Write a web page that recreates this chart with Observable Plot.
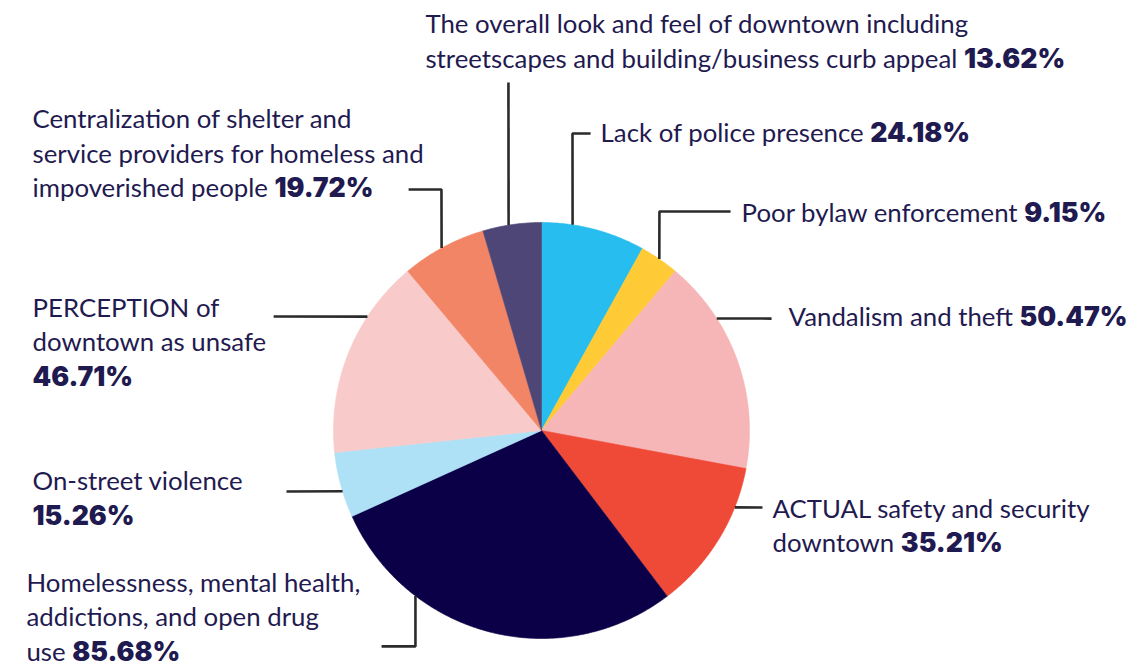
<!DOCTYPE html>
<html>
<head>
<meta charset="utf-8">
<script src="https://cdn.jsdelivr.net/npm/d3@7"></script>
<script src="https://cdn.jsdelivr.net/npm/@observablehq/plot@0.6"></script>
<style>
  html, body { margin: 0; padding: 0; background: #fff; }
  #chart svg { display: block; }
</style>
</head>
<body>
<div id="chart"></div>
<script>
// ---- data ----
const categories = [
  "Lack of police presence",
  "Poor bylaw enforcement",
  "Vandalism and theft",
  "ACTUAL safety and security downtown",
  "Homelessness, mental health, addictions, and open drug use",
  "On-street violence",
  "PERCEPTION of downtown as unsafe",
  "Centralization of shelter and service providers for homeless and impoverished people",
  "The overall look and feel of downtown including streetscapes and building/business curb appeal"
];
const values = [24.18, 9.15, 50.47, 35.21, 85.68, 15.26, 46.71, 19.72, 13.62];
// label text as printed (line breaks), percentage appended from values
const labelLines = [
  "Lack of police presence",
  "Poor bylaw enforcement",
  "Vandalism and theft",
  "ACTUAL safety and security\ndowntown",
  "Homelessness, mental health,\naddictions, and open drug\nuse",
  "On-street violence\n",
  "PERCEPTION of\ndowntown as unsafe\n",
  "Centralization of shelter and\nservice providers for homeless and\nimpoverished people",
  "The overall look and feel of downtown including\nstreetscapes and building/business curb appeal"
];

// ---- styles ----
const palette = ["#27bdee", "#fecb36", "#f6b5b6", "#ef4a37", "#0b0047", "#aee0f6", "#f8cbca", "#f38567", "#4d4676"];
const textColor = "#1f1a50";
const lineColor = "#2b2b2b";
const fontSize = 25.8;
const boldSize = 26.6;

// ---- layout (pie centre / radius in pixels; labels in radius units) ----
const W = 1140, H = 666, CX = 541, CY = 430, R = 208;
const labelPos = [ // [x of left edge, y of last line's baseline]
  [0.284, 1.386], [0.962, 1.001], [1.188, 0.501], [1.111, -0.585],
  [-2.476, -1.106], [-2.447, -0.452], [-2.447, 0.216], [-2.447, 1.122], [-0.558, 1.745]
];
const leaderAttachDeg = [8.6, 34.5, 57.4, 111.7, 217.3, 253.0, 303.2, 331.3, 350.9];
const leaderElbows = [
  [[0.149, 1.428], [0.236, 1.428]],
  [[0.567, 1.053], [0.909, 1.053]],
  [[1.106, 0.538]],
  [[1.0625, -0.370]],
  [[-0.606, -1.038], [-0.769, -1.038]],
  [[-1.226, -0.293]],
  [[-1.288, 0.548]],
  [[-0.481, 1.159], [-0.639, 1.159]],
  [[-0.159, 1.673]]
];

// ---- build slices ----
const arcs = d3.pie().sort(null).value(d => d)(values);
const slicePts = [];
arcs.forEach((a, i) => {
  const steps = Math.max(2, Math.ceil((a.endAngle - a.startAngle) / (Math.PI / 360)));
  slicePts.push({k: i, x: 0, y: 0, c: palette[i]});
  for (let s = 0; s <= steps; s++) {
    const t = a.startAngle + (a.endAngle - a.startAngle) * s / steps;
    slicePts.push({k: i, x: Math.sin(t), y: Math.cos(t), c: palette[i]});
  }
  slicePts.push({k: i, x: 0, y: 0, c: palette[i]});
});

// ---- leaders ----
const leaderPts = [];
leaderAttachDeg.forEach((deg, i) => {
  const t = deg * Math.PI / 180;
  leaderPts.push({k: i, x: Math.sin(t), y: Math.cos(t)});
  leaderElbows[i].forEach(([x, y]) => leaderPts.push({k: i, x, y}));
});

// ---- labels ----
const labels = categories.map((c, i) => ({
  x: labelPos[i][0], y: labelPos[i][1],
  text: labelLines[i] + (labelLines[i].endsWith("\n") ? "" : " ") + values[i].toFixed(2) + "%"
}));

const xDomain = [-CX / R, (W - CX) / R];
const yDomain = [-(H - CY) / R, CY / R];

const chart = Plot.plot({
  width: W, height: H, margin: 0,
  x: {domain: xDomain, axis: null},
  y: {domain: yDomain, axis: null},
  color: {type: "identity"},
  style: {fontFamily: "Lato, sans-serif", background: "#fff"},
  marks: [
    Plot.line(slicePts, {x: "x", y: "y", z: "k", fill: "c", stroke: "c", strokeWidth: 0.6, curve: "linear"}),
    Plot.line(leaderPts, {x: "x", y: "y", z: "k", stroke: lineColor, strokeWidth: 2.6, strokeLinecap: "butt", strokeLinejoin: "miter"}),
    Plot.text(labels, {x: "x", y: "y", text: "text", textAnchor: "start", lineAnchor: "bottom",
      fontSize, lineHeight: 34.5 / fontSize, fill: textColor, className: "lbl"})
  ]
});
document.getElementById("chart").appendChild(chart);

// bold percentages
chart.querySelectorAll("g.lbl text").forEach(t => {
  const spans = t.querySelectorAll("tspan");
  const node = spans.length ? spans[spans.length - 1] : t;
  const s = node.textContent;
  const m = s.match(/^(.*?)(\d+\.\d+%)$/);
  if (!m) return;
  node.textContent = m[1];
  const b = document.createElementNS("http://www.w3.org/2000/svg", "tspan");
  b.setAttribute("font-weight", "900");
  b.setAttribute("font-family", "Inter, sans-serif");
  b.setAttribute("font-size", boldSize);
  b.textContent = m[2];
  node.appendChild(b);
  node.setAttribute("style", "white-space: pre");
});
</script>
</body>
</html>
